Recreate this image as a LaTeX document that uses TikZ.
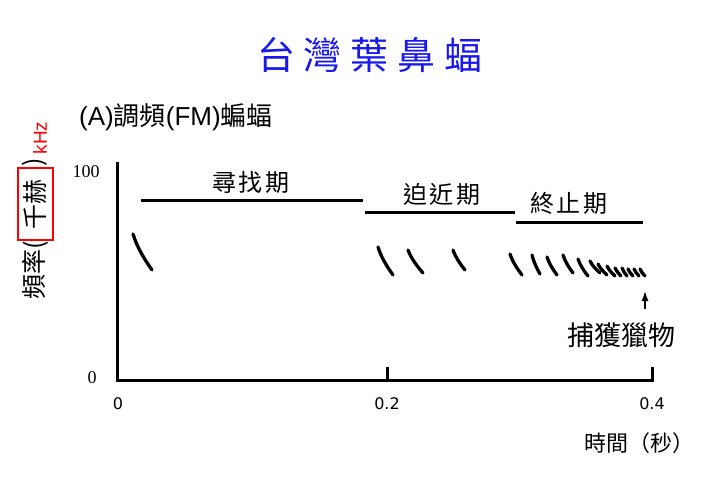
\documentclass[tikz,border=0pt]{standalone}
\usepackage{fontspec}
\setmainfont{Liberation Sans}
\newfontfamily\cjk{Noto Sans CJK TC}
\newfontfamily\cjkwide[LetterSpace=10]{Noto Sans CJK TC}
\newfontfamily\numserif{Liberation Serif}
\newfontfamily\numsans{DejaVu Sans}
\usetikzlibrary{arrows.meta,positioning}
\definecolor{titleblue}{RGB}{25,25,235}
\tikzset{
  axis/.style={line width=3pt, line join=miter},
  phase/.style={line width=3pt},
  call/.style={line width=3.3pt, line cap=round},
  phaselabel/.style={font=\cjkwide\fontsize{24}{26}\selectfont, inner sep=0pt},
  ticklabel/.style={font=\numsans\fontsize{16}{18}\selectfont, inner sep=0pt},
  ylabel/.style={font=\numserif\fontsize{18}{20}\selectfont, inner sep=0pt},
  freq/.style={font=\cjk\fontsize{25}{27}\selectfont, rotate=90, inner sep=0pt}
}

\begin{document}
\begin{tikzpicture}[x=1pt, y=-1pt]
  \useasboundingbox (0,0) rectangle (720,477);

  % titles
  \node[text=titleblue, font=\cjk\fontsize{38}{40}\selectfont, inner sep=0pt] (title) at (370,55)
    {台\hspace{9pt}灣\hspace{9pt}葉\hspace{9pt}鼻\hspace{9pt}蝠};
  \node[anchor=west, font=\fontsize{26}{28}\selectfont, inner sep=0pt] (subtitle) at (79,117)
    {(A){\cjk 調頻}(FM){\cjk 蝙蝠}};

  % axes
  \draw[axis] (117,162) -- (117,380) -- (652,380) -- (652,367);
  \draw[axis] (387,380) -- (387,367);
  \node[ylabel] (y100) at (86,172) {100};
  \node[ylabel] (y0) at (92,378) {0};
  \node[ticklabel] (x0) at (118,404) {0};
  \node[ticklabel] (x2) at (387,404) {0.2};
  \node[ticklabel] (x4) at (652,404) {0.4};
  \node[font=\cjk\fontsize{22}{24}\selectfont, inner sep=0pt] (time) at (639,443) {時間（秒）};

  % frequency label
  \node[freq, draw=red, line width=2pt, minimum width=72pt, minimum height=35pt] (freqbox) at (35,204) {千赫};
  \node[freq, anchor=east] (freqpre) at (freqbox.west) {頻率(};
  \node[freq, anchor=west] (freqpost) at (freqbox.east) {)};
  \node[font=\fontsize{19}{21}\selectfont, text=red, rotate=90, inner sep=0pt] (khz) at (40,138) {kHz};

  % phases
  \draw[phase] (141,200) -- (363,200);
  \draw[phase] (365,212) -- (515,212);
  \draw[phase] (516,222) -- (643,222);
  \node[phaselabel] (search) at (251,182) {尋找期};
  \node[phaselabel] (approach) at (442,194) {迫近期};
  \node[phaselabel] (terminal) at (569,203) {終止期};

  % calls
  \foreach \x/\y/\w/\h in {133/234/19/36, 378/247/15/28, 408/250/15/23, 453/250/12/20,
      510/254/12/21, 532/255/8/19, 547/257/10/18, 563/255/10/18, 578/259/10/17,
      590/261/10/12, 598/264/9/11, 607/266/8/10, 615/268/6/8, 622/268/5/8,
      628/269/5/7, 634/269/5/7, 640/269/5/7}
    \draw[call] (\x,\y) .. controls ({\x+0.22*\w},{\y+0.38*\h}) and ({\x+0.6*\w},{\y+0.7*\h}) .. ({\x+\w},{\y+\h});

  % capture
  \node[font=\cjk\fontsize{27}{29}\selectfont, inner sep=0pt] (prey) at (621,335) {捕獲獵物};
  \coordinate (preytip) at (645,291);
  \draw[-{Latex[length=10pt,width=7pt]}, line width=1.5pt, shorten <=13pt] (prey.north -| preytip) -- (preytip);
\end{tikzpicture}
\end{document}
